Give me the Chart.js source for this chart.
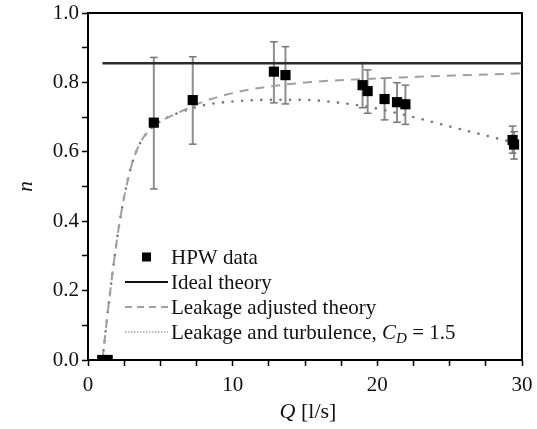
<!DOCTYPE html>
<html>
<head>
<meta charset="utf-8">
<script src="https://cdn.jsdelivr.net/npm/chart.js@4.4.1/dist/chart.umd.min.js"></script>
<style>
html,body{margin:0;padding:0;background:#fff;}
#wrap{width:537px;height:429px;}
</style>
</head>
<body>
<div id="wrap"><canvas id="c" width="537" height="429"></canvas></div>
<script>
// ---- data ----
const hpwQ    = [0.98, 1.36, 4.55, 7.24, 12.85, 13.65, 18.98, 19.33, 20.5, 21.36, 21.94, 29.35, 29.45];
const hpwN    = [0, 0, 0.684, 0.749, 0.831, 0.821, 0.792, 0.775, 0.752, 0.743, 0.737, 0.634, 0.621];
const hpwLow  = [null, null, 0.493, 0.622, 0.741, 0.738, 0.727, 0.711, 0.692, 0.685, 0.679, 0.596, 0.579];
const hpwHigh = [null, null, 0.872, 0.874, 0.917, 0.903, 0.857, 0.836, 0.812, 0.799, 0.792, 0.674, 0.658];

const idealQ = [1.0, 30];
const idealN = [0.855, 0.855];

const leakQ = [1.0, 1.25, 1.5, 1.8, 2.1, 2.5, 3.0, 3.6, 4.3, 5.0, 6.0, 7.4, 8.5, 11.0, 12.9, 15.4, 18.2, 22.8, 26.3, 30];
const leakN = [0, 0.095, 0.185, 0.285, 0.375, 0.47, 0.56, 0.625, 0.665, 0.688, 0.708, 0.735, 0.752, 0.778, 0.79, 0.801, 0.808, 0.816, 0.821, 0.826];

const turbQ = [1.0, 1.25, 1.5, 1.8, 2.1, 2.5, 3.0, 3.6, 4.3, 5.0, 6.0, 7.4, 8.2, 11.0, 13.3, 15.4, 17.0, 19.3, 22.8, 25.1, 27.4, 30];
const turbN = [0, 0.095, 0.185, 0.285, 0.375, 0.47, 0.56, 0.625, 0.665, 0.688, 0.708, 0.728, 0.736, 0.748, 0.75, 0.749, 0.743, 0.73, 0.697, 0.672, 0.648, 0.621];

const xTickLabels = ['0', '10', '20', '30'];
const yTickLabels = ['0.0', '0.2', '0.4', '0.6', '0.8', '1.0'];
const seriesLabels = ['HPW data', 'Ideal theory', 'Leakage adjusted theory', 'Leakage and turbulence, '];
const xTitle = ['Q', ' [l/s]'];
const yTitle = 'n';

// ---- build library structures ----
const pts = (xs, ys) => xs.map((x, i) => ({x: x, y: ys[i]}));
const errData = [];
hpwQ.forEach((q, i) => {
  if (hpwLow[i] != null) {
    errData.push({x: q, y: hpwLow[i]}, {x: q, y: hpwHigh[i]}, {x: q, y: null});
  }
});

const FONT = '"Liberation Serif", "Times New Roman", serif';
const FS = 21;

const legendPlugin = {
  id: 'insideLegend',
  afterDraw(chart) {
    const ctx = chart.ctx;
    const ca = chart.chartArea;
    const x0 = ca.left + 37;
    const symW = 43;
    const rowH = 25;
    const yStart = ca.bottom - 28 - 3 * rowH;
    const tx = x0 + symW + 3;
    ctx.save();
    ctx.textBaseline = 'middle';
    ctx.fillStyle = '#111';
    const ds = chart.data.datasets;
    [0, 1, 2, 3].forEach((k, r) => {
      const y = yStart + r * rowH;
      const d = ds[k];
      ctx.save();
      if (k === 0) {
        ctx.fillStyle = '#000';
        ctx.fillRect(x0 + symW / 2 - 4.5, y - 4.5, 9, 9);
      } else {
        ctx.strokeStyle = k === 1 ? '#111' : d.borderColor;
        ctx.lineWidth = k === 1 ? 2 : (k === 2 ? 1.8 : 1.2);
        ctx.setLineDash(k === 1 ? [] : (k === 2 ? [7, 5] : [1.5, 1.5]));
        ctx.beginPath();
        ctx.moveTo(x0, y);
        ctx.lineTo(x0 + symW, y);
        ctx.stroke();
      }
      ctx.restore();
      ctx.font = FS + 'px ' + FONT;
      ctx.fillStyle = '#111';
      ctx.fillText(seriesLabels[r], tx, y + 1);
      if (r === 3) {
        let cx = tx + ctx.measureText(seriesLabels[r]).width;
        ctx.font = 'italic ' + FS + 'px ' + FONT;
        ctx.fillText('C', cx, y + 1);
        cx += ctx.measureText('C').width;
        ctx.font = 'italic 15px ' + FONT;
        ctx.fillText('D', cx, y + 7);
        cx += ctx.measureText('D').width;
        ctx.font = FS + 'px ' + FONT;
        ctx.fillText(' = 1.5', cx, y + 1);
      }
    });
    // x axis title
    ctx.font = 'italic 22px ' + FONT;
    const w1 = ctx.measureText(xTitle[0]).width;
    ctx.font = '22px ' + FONT;
    const w2 = ctx.measureText(xTitle[1]).width;
    const cxm = (ca.left + ca.right) / 2 + 3;
    const sx = cxm - (w1 + w2) / 2;
    ctx.textBaseline = 'alphabetic';
    ctx.font = 'italic 22px ' + FONT;
    ctx.fillText(xTitle[0], sx, 418);
    ctx.font = '22px ' + FONT;
    ctx.fillText(xTitle[1], sx + w1, 418);
    ctx.restore();
  }
};

new Chart(document.getElementById('c'), {
  type: 'line',
  data: {
    datasets: [
      {
        label: seriesLabels[0],
        data: pts(hpwQ, hpwN),
        showLine: false,
        pointStyle: 'rect',
        pointRadius: 7.2,
        pointHoverRadius: 7.2,
        backgroundColor: '#000',
        borderColor: '#000',
        pointBorderWidth: 0,
        clip: 0,
        order: 0
      },
      {
        label: seriesLabels[1],
        data: pts(idealQ, idealN),
        borderColor: '#2b2b2b',
        borderWidth: 2.5,
        pointRadius: 0,
        order: 2
      },
      {
        label: seriesLabels[2],
        data: pts(leakQ, leakN),
        borderColor: '#a0a0a0',
        borderWidth: 2,
        borderDash: [9, 7],
        pointRadius: 0,
        cubicInterpolationMode: 'monotone',
        order: 3
      },
      {
        label: seriesLabels[3],
        data: pts(turbQ, turbN),
        borderColor: '#7a7a7a',
        borderWidth: 2.6,
        borderDash: [0.1, 9.5],
        borderCapStyle: 'round',
        pointRadius: 0,
        cubicInterpolationMode: 'monotone',
        order: 3
      },
      {
        label: 'error',
        data: errData,
        borderColor: '#8e8e8e',
        borderWidth: 2,
        spanGaps: false,
        pointStyle: 'line',
        pointRadius: 3.8,
        pointBorderWidth: 1.5,
        pointBorderColor: '#777',
        order: 4
      }
    ]
  },
  options: {
    responsive: false,
    animation: false,
    events: [],
    layout: {padding: {left: 0, right: 15, top: 13, bottom: 0}},
    plugins: {legend: {display: false}, tooltip: {enabled: false}},
    scales: {
      x: {
        type: 'linear', position: 'bottom', min: 0, max: 30,
        afterFit: s => { s.height = 69; s.paddingLeft = 0; s.paddingRight = 0; },
        ticks: {
          stepSize: 2.5, autoSkip: false, maxRotation: 0, padding: 7,
          color: '#111', font: {family: FONT, size: FS},
          callback: v => (Math.abs(v % 10) < 1e-9 ? xTickLabels[Math.round(v / 10)] : '')
        },
        grid: {drawOnChartArea: false, drawTicks: true, tickLength: 6, tickColor: '#000', tickWidth: 1.5},
        border: {display: true, color: '#000', width: 2}
      },
      y: {
        type: 'linear', position: 'left', min: 0, max: 1,
        afterFit: s => { s.width = 88; s.paddingTop = 0; s.paddingBottom = 0; },
        title: {display: true, text: yTitle, color: '#111', font: {family: FONT, size: FS, style: 'italic'}, padding: {top: 14, bottom: 0}},
        ticks: {
          stepSize: 0.1, autoSkip: false, padding: 3,
          color: '#111', font: {family: FONT, size: FS},
          callback: v => { const k = Math.round(v * 10); return k % 2 === 0 ? yTickLabels[k / 2] : ''; }
        },
        grid: {drawOnChartArea: false, drawTicks: true, tickLength: 6, tickColor: '#000', tickWidth: 1.5},
        border: {display: true, color: '#000', width: 2}
      },
      x2: {
        type: 'linear', position: 'top', min: 0, max: 30,
        afterFit: s => { s.height = 0; s.paddingLeft = 0; s.paddingRight = 0; },
        ticks: {display: false},
        grid: {drawOnChartArea: false, drawTicks: false},
        border: {display: true, color: '#000', width: 2}
      },
      y2: {
        type: 'linear', position: 'right', min: 0, max: 1,
        afterFit: s => { s.width = 0; s.paddingTop = 0; s.paddingBottom = 0; },
        ticks: {display: false},
        grid: {drawOnChartArea: false, drawTicks: false},
        border: {display: true, color: '#000', width: 2}
      }
    }
  },
  plugins: [legendPlugin]
});
</script>
</body>
</html>
